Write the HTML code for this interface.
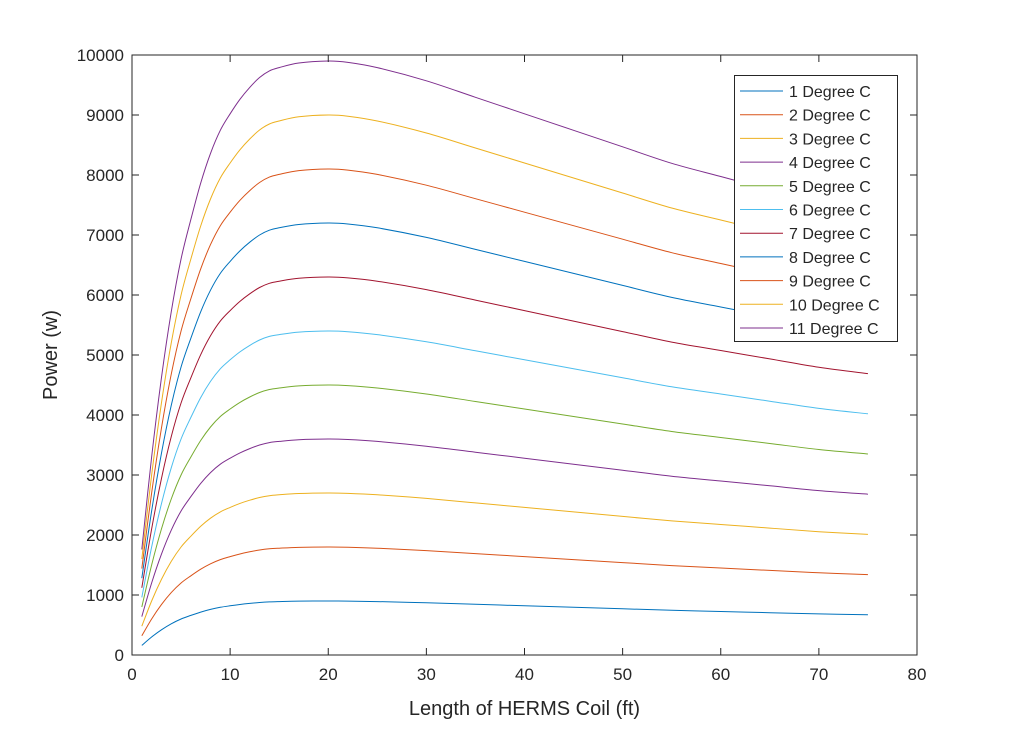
<!DOCTYPE html>
<html><head><meta charset="utf-8"><style>
body{margin:0;background:#fff;}
svg text{font-family:"Liberation Sans",Arial,sans-serif;fill:#262626;}
</style></head><body>
<svg id="chart" width="1014" height="736" xmlns="http://www.w3.org/2000/svg">
<rect width="1014" height="736" fill="#fff"/>
<g id="plot"></g>
</svg>
<script>
const lengths=[1,2,3,4,5,6,7,8,9,10,11,12,13,14,15,17,20,22,25,30,35,40,45,50,55,60,65,70,75];
const basePower=[160,300,420,520,600,660,715,760,795,820,842,860,875,885,890,897,900,898,890,870,845,820,795,770,745,725,705,685,670];
const degrees=[1,2,3,4,5,6,7,8,9,10,11];
const seriesLabels=["1 Degree C","2 Degree C","3 Degree C","4 Degree C","5  Degree C","6 Degree C","7 Degree C","8 Degree C","9 Degree C","10 Degree C","11 Degree C"];
const xTicks=[0,10,20,30,40,50,60,70,80];
const yTicks=[0,1000,2000,3000,4000,5000,6000,7000,8000,9000,10000];
const colors=["#0072BD","#D95319","#EDB120","#7E2F8E","#77AC30","#4DBEEE","#A2142F"];
const L=132,R=917,T=55,B=655;
const sx=v=>L+(v-0)/(80-0)*(R-L);
const sy=v=>B-(v-0)/(10000-0)*(B-T);
const g=document.getElementById('plot');
const NS="http://www.w3.org/2000/svg";
function mk(tag,attrs,parent){const e=document.createElementNS(NS,tag);for(const k in attrs)e.setAttribute(k,attrs[k]);(parent||g).appendChild(e);return e;}
function smooth(P){
  let d="M"+P[0][0].toFixed(2)+","+P[0][1].toFixed(2);
  for(let i=0;i<P.length-1;i++){
    const p0=P[i-1]||P[i],p1=P[i],p2=P[i+1],p3=P[i+2]||P[i+1];
    const c1=[p1[0]+(p2[0]-p0[0])/6,p1[1]+(p2[1]-p0[1])/6];
    const c2=[p2[0]-(p3[0]-p1[0])/6,p2[1]-(p3[1]-p1[1])/6];
    d+=" C"+c1.map(v=>v.toFixed(2))+" "+c2.map(v=>v.toFixed(2))+" "+p2.map(v=>v.toFixed(2));
  }
  return d;
}
degrees.forEach((d,i)=>{
  const pts=lengths.map((x,j)=>[sx(x),sy(basePower[j]*d)]);
  const p=mk('path',{d:smooth(pts),fill:"none",stroke:colors[i%7],"stroke-width":1});
  
  
});
const box=mk('rect',{x:L,y:T,width:R-L,height:B-T,fill:"none",stroke:"#262626","stroke-width":1});


xTicks.forEach(t=>{
  const x=sx(t);
  mk('line',{x1:x,y1:B,x2:x,y2:B-7,stroke:"#262626"});
  mk('line',{x1:x,y1:T,x2:x,y2:T+7,stroke:"#262626"});
  const tx=mk('text',{x:x,y:B+25,"text-anchor":"middle","font-size":17});
  tx.textContent=t;
  
  
});
yTicks.forEach(t=>{
  const y=sy(t);
  mk('line',{x1:L,y1:y,x2:L+7,y2:y,stroke:"#262626"});
  mk('line',{x1:R,y1:y,x2:R-7,y2:y,stroke:"#262626"});
  const tx=mk('text',{x:L-8,y:y+6,"text-anchor":"end","font-size":17});
  tx.textContent=t;
  
  
});
const xl=mk('text',{x:(L+R)/2,y:715,"text-anchor":"middle","font-size":20});
xl.textContent="Length of HERMS Coil (ft)";


const yl=mk('text',{x:0,y:0,"text-anchor":"middle","font-size":20,transform:"translate(57,355) rotate(-90)"});
yl.textContent="Power (w)";


const lg=mk('g',{});


mk('rect',{x:734.5,y:75.5,width:163,height:266,fill:"#fff",stroke:"#262626"},lg);
seriesLabels.forEach((s,i)=>{
  const y=91+i*23.7;
  mk('line',{x1:740,y1:y,x2:783,y2:y,stroke:colors[i%7]},lg);
  const t=mk('text',{x:789,y:y+6,"font-size":16},lg);
  t.textContent=s;
  
  
});
</script>
</body></html>
